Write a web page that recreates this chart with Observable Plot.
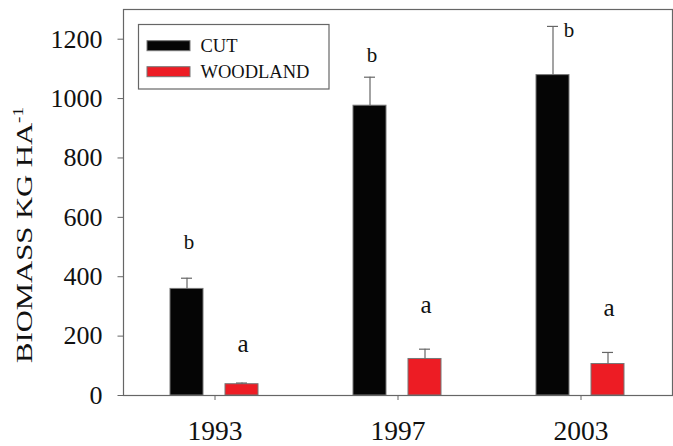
<!DOCTYPE html>
<html>
<head>
<meta charset="utf-8">
<script src="https://cdn.jsdelivr.net/npm/d3@7"></script>
<script src="https://cdn.jsdelivr.net/npm/@observablehq/plot@0.6"></script>
<style>
  html, body { margin: 0; padding: 0; background: #fff; }
  #chart { width: 673px; height: 446px; }
</style>
</head>
<body>
<div id="chart"></div>
<script>
// ---- data ----
const years = ["1993", "1997", "2003"];
const series = ["CUT", "WOODLAND"];
const cutMean = [359, 976, 1079];
const cutErr = [36, 96, 164];
const woodMean = [38, 123, 106];
const woodErr = [4, 33, 39];
const cutLetters = ["b", "b", "b"];
const woodLetters = ["a", "a", "a"];
const cutLetterAt = [493, 1122, 1209];
const woodLetterAt = [147, 277, 267];
const yTicks = [0, 200, 400, 600, 800, 1000, 1200];
const colors = ["#050505", "#ed1c24"];

const rows = years.flatMap((year, i) => [
  {year, series: "CUT", mean: cutMean[i], err: cutErr[i], letter: cutLetters[i], at: cutLetterAt[i]},
  {year, series: "WOODLAND", mean: woodMean[i], err: woodErr[i], letter: woodLetters[i], at: woodLetterAt[i]}
]);

const font = "'Liberation Serif', 'Times New Roman', serif";
const beside = d => d.year === "2003" && d.series === "CUT";

const plot = Plot.plot({
  width: 673,
  height: 446,
  marginLeft: 123,
  marginRight: 1,
  marginTop: 9,
  marginBottom: 51,
  style: {fontFamily: font, background: "#fff", color: "#111"},
  fx: {domain: years, padding: 0, label: null, axis: null},
  x: {domain: series, paddingInner: 0.398, paddingOuter: 0.855, axis: null},
  y: {domain: [0, 1300], axis: null},
  color: {domain: series, range: colors},
  marks: [
    Plot.axisY({ticks: yTicks, tickSize: 5.5, tickPadding: 15.5, fontSize: 26, stroke: "#666",
                fill: "#111", fontFamily: font, tickFormat: d => String(d), label: null}),
    Plot.axisFx({anchor: "bottom", tickSize: 5, tickPadding: 19.5, fontSize: 27.5, stroke: "#666",
                 fill: "#111", fontFamily: font, label: null}),
    Plot.barY(rows, {fx: "year", x: "series", y: "mean", fill: "series", stroke: "#777", strokeWidth: 1}),
    Plot.ruleX(rows, {fx: "year", x: "series", y1: "mean", y2: d => d.mean + d.err, stroke: "#666", strokeWidth: 1.2}),
    Plot.tickY(rows, {fx: "year", x: "series", y: d => d.mean + d.err, stroke: "#666", strokeWidth: 1.2,
                      insetLeft: 11, insetRight: 11}),
    Plot.text(rows, {filter: d => d.series === "CUT" && !beside(d), fx: "year", x: "series", y: "at",
                     text: "letter", fontSize: 21, lineAnchor: "bottom", fill: "#111", dx: 2}),
    Plot.text(rows, {filter: beside, fx: "year", x: "series", y: "at",
                     text: "letter", fontSize: 21, lineAnchor: "bottom", fill: "#111", dx: 16}),
    Plot.text(rows, {filter: d => d.series === "WOODLAND", fx: "year", x: "series", y: "at",
                     text: "letter", fontSize: 25, lineAnchor: "bottom", fill: "#111", dx: 1}),
    Plot.frame({facet: "super", stroke: "#666", strokeWidth: 1.2})
  ]
});

document.getElementById("chart").appendChild(plot);

// ---- y-axis title with superscript ----
const svg = d3.select(plot.tagName.toLowerCase() === "svg" ? plot : plot.querySelector("svg"));
const ylab = svg.append("text")
  .attr("transform", "translate(32,235) rotate(-90)")
  .attr("text-anchor", "middle")
  .attr("font-family", font)
  .attr("font-size", 22.5)
  .attr("fill", "#111");
ylab.append("tspan").text("BIOMASS KG HA");
ylab.append("tspan").attr("font-size", 14).attr("dy", -9).text("-1");
// the reference title is drawn stretched along its length (~256px)
try {
  const len = ylab.node().getComputedTextLength();
  if (len > 0) ylab.attr("transform", `translate(32,235) rotate(-90) scale(${256 / len},1)`);
} catch (e) {}

// ---- legend inside the plot, colours from the color scale ----
const color = plot.scale("color");
const lg = svg.append("g").attr("font-family", font).attr("font-size", 18.5)
  .attr("fill", "#111").attr("text-anchor", "start");
lg.append("rect").attr("x", 138.5).attr("y", 24.5).attr("width", 190.5).attr("height", 64.5)
  .attr("fill", "#fff").attr("stroke", "#666").attr("stroke-width", 1.2);
color.domain.forEach((s, i) => {
  const y0 = 40.7 + i * 26;
  lg.append("rect").attr("x", 147).attr("y", y0).attr("width", 43).attr("height", 10)
    .attr("fill", color.apply(s)).attr("stroke", "#777").attr("stroke-width", 1);
  lg.append("text").attr("x", 200.5).attr("y", y0 + 11.2).attr("text-anchor", "start").text(s);
});
</script>
</body>
</html>
